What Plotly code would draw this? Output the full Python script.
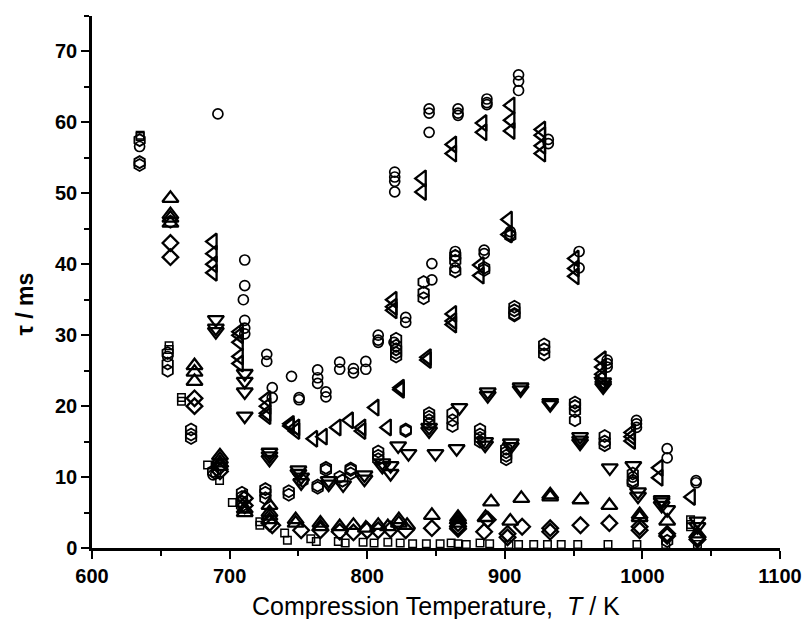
import plotly.graph_objects as go

# ---- data (T in K, tau in ms) ----
circle_T = [691.5, 634.6, 711, 711, 710, 711, 711, 711, 727, 727, 731, 731, 745, 750.5, 750.5,
            764, 764, 764, 770, 770, 780, 780, 790, 790, 799, 799, 808, 808, 808,
            820, 820, 820, 820, 819.5, 828, 828, 845, 845, 845, 847, 847,
            866, 866, 866, 864, 864, 864, 887, 887, 887, 885, 885,
            910, 910, 910, 904, 904, 931.6, 931.6, 954, 954,
            974.4, 974.4, 974.4, 995.7, 995.7, 995.7, 993, 1018, 1018, 1039, 1039,
            688, 690, 655]
circle_tau = [61.2, 56.6, 40.6, 37.0, 35.0, 32.1, 31.0, 30.2, 27.3, 26.3, 22.6, 21.2, 24.2, 21.2, 20.9,
              25.1, 24.0, 23.2, 22.0, 21.3, 26.2, 25.2, 25.3, 24.7, 26.3, 25.2, 30.0, 29.3, 29.0,
              53.0, 52.3, 51.7, 50.2, 29.0, 32.5, 31.8, 61.9, 61.3, 58.6, 40.1, 37.8,
              61.9, 61.3, 61.0, 41.8, 41.2, 39.5, 63.3, 62.8, 62.5, 42.0, 41.5,
              66.7, 65.8, 64.5, 44.6, 44.2, 57.6, 57.0, 41.8, 39.5,
              26.5, 26.0, 25.5, 18.0, 17.5, 17.0, 10.0, 14.0, 12.7, 9.5, 9.2,
              10.3, 10.5, 27.0]

hex_T = [634.6, 634.6, 634.6, 657, 655, 655, 655, 672, 672, 672, 688,
         709, 709, 709, 709, 726, 726, 726, 743, 743, 753, 764, 764, 770, 770, 780, 782,
         788, 788, 788, 808, 808, 808, 821, 821, 821, 821, 821, 828, 828,
         841, 841, 841, 845, 845, 845, 845, 864, 864, 864, 862, 862, 862,
         885, 885, 882, 882, 882, 882, 904, 907, 907, 907, 907, 901, 901, 901, 901,
         928.6, 928.6, 928.6, 951, 951, 951, 951, 972.6, 972.6, 972.6, 993, 993, 993, 1018]
hex_tau = [57.5, 54.4, 54.0, 46.0, 27.5, 26.0, 25.0, 16.7, 16.0, 15.5, 10.8,
           7.8, 7.2, 6.5, 6.0, 8.3, 7.8, 7.0, 8.0, 7.5, 9.5, 8.8, 8.5, 11.3, 11.0, 10.0, 9.5,
           11.2, 11.0, 10.5, 13.6, 13.0, 12.5, 29.5, 28.5, 28.0, 27.5, 27.0, 16.7, 16.5,
           37.5, 36.0, 35.2, 19.0, 18.5, 18.0, 17.5, 41.2, 40.5, 39.0, 19.0, 18.0, 17.2,
           39.5, 39.2, 16.7, 16.0, 15.5, 15.0, 44.0, 34.0, 33.5, 33.0, 32.8, 14.0, 13.5, 13.0, 12.5,
           28.7, 28.0, 27.3, 20.5, 20.0, 19.3, 18.0, 15.8, 15.0, 14.5, 10.5, 9.5, 9.2, 1.0]

square_T = [635, 635, 656, 656, 665, 665, 684, 692.7, 702, 722, 722, 740, 742, 759, 763,
            779, 784, 797, 805, 815, 824, 833, 843, 853, 861, 866, 872, 882, 889,
            903, 910, 921, 931, 941, 953, 975, 996, 1017, 1035, 1035, 1035, 1040]
square_tau = [58.2, 58.0, 28.5, 28.0, 21.2, 20.7, 11.7, 9.5, 6.4, 3.7, 3.2, 2.1, 1.1, 1.3, 0.9,
              0.9, 0.7, 0.8, 0.7, 0.8, 0.7, 0.6, 0.6, 0.6, 0.7, 0.6, 0.5, 0.7, 0.6,
              0.5, 0.5, 0.5, 0.5, 0.5, 0.5, 0.5, 0.5, 0.5, 4.0, 3.3, 3.0, 0.5]

tri_up_T = [657, 657, 657, 657, 674.5, 674.5, 674.5, 693, 693, 693, 693, 711, 711,
            729, 729, 729, 729, 748, 748, 766, 766, 780, 790, 799, 808, 815,
            823, 823, 829, 847, 866, 866, 866, 890, 886, 912, 904, 933, 933,
            955, 976, 998, 998, 1018, 1040]
tri_up_tau = [49.3, 47.0, 46.5, 45.8, 25.7, 24.8, 23.5, 13.0, 12.5, 12.0, 11.5, 5.5, 5.0,
              6.0, 5.0, 4.5, 4.0, 4.0, 3.5, 3.5, 3.0, 3.0, 3.2, 2.8, 3.2, 3.0,
              4.0, 3.5, 3.2, 4.6, 4.3, 4.0, 3.5, 6.5, 4.3, 7.0, 3.8, 7.5, 7.2,
              6.8, 6.0, 4.7, 4.3, 3.8, 2.0]

tri_down_T = [690, 690, 690, 711, 711, 711, 711, 729, 729, 729, 750, 750, 752, 752,
              772, 772, 782.5, 798, 798, 811, 811, 817, 817, 822.5, 830, 845, 845, 849.6,
              867, 865, 887.6, 887.6, 885.7, 885.7, 911.5, 911.5, 904.4, 904.4, 933, 933,
              954.7, 954.7, 954.7, 971.5, 971.5, 971.5, 976.3, 993.4, 996.8, 996.8,
              1014, 1014, 1014, 1018, 1040, 1040]
tri_down_tau = [32.2, 31.0, 30.5, 24.6, 23.5, 22.0, 18.6, 13.5, 13.0, 12.5, 11.0, 10.5, 10.0, 9.2,
                9.5, 9.0, 8.9, 10.3, 9.7, 12.0, 11.5, 11.6, 10.5, 14.4, 13.3, 17.0, 16.5, 13.3,
                19.8, 14.0, 22.0, 21.5, 15.0, 14.5, 22.7, 22.3, 14.8, 14.3, 20.5, 20.2,
                15.7, 15.2, 14.8, 23.4, 23.0, 22.7, 11.3, 11.6, 7.9, 7.3,
                6.8, 6.5, 6.0, 5.4, 3.8, 3.0]

tri_left_T = [688, 688, 688, 688, 707, 707, 707, 707, 707, 727, 727, 727, 727,
              744, 744, 748, 748, 761, 768, 778, 787, 796, 796, 805.6, 814.6,
              818.7, 818.7, 818.7, 824, 824, 840, 840, 843.6, 843.6, 862, 862, 862, 862, 862,
              884, 884, 882, 882, 904.4, 904.4, 904.4, 902.5, 902.5,
              926.7, 926.7, 926.7, 926.7, 951, 951, 951, 970.7, 970.7, 970.7, 970.7,
              992, 992, 992, 1012, 1012, 1035.5]
tri_left_tau = [43.2, 41.5, 40.0, 38.8, 30.5, 30.0, 29.0, 27.0, 26.0, 21.0, 20.0, 19.0, 18.6,
                17.5, 17.2, 17.0, 16.5, 15.4, 15.7, 17.0, 18.0, 17.0, 16.5, 19.8, 17.0,
                35.0, 34.0, 33.5, 22.6, 22.3, 52.1, 50.2, 26.9, 26.5, 56.9, 55.6, 33.0, 32.0, 31.5,
                59.9, 58.6, 39.9, 38.4, 62.4, 60.3, 58.8, 46.3, 44.2,
                59.0, 58.2, 56.7, 55.6, 40.8, 39.4, 38.3, 26.6, 25.5, 24.5, 24.0,
                16.3, 15.7, 15.1, 11.3, 9.9, 7.2]

diamond_T = [657, 657, 674.5, 674.5, 693, 693, 711, 711, 729, 731, 752,
             766, 780, 790, 800, 808, 817, 828, 847, 866, 866, 866,
             887.6, 885, 912.6, 902, 902, 933, 933, 955, 976, 998, 998,
             1018, 1018, 1040, 1040]
diamond_tau = [43.0, 41.0, 21.1, 20.0, 11.5, 10.8, 7.0, 6.0, 3.5, 3.2, 2.5,
               2.5, 2.3, 2.2, 2.5, 2.5, 2.6, 2.5, 2.8, 3.5, 3.0, 2.7,
               4.0, 2.3, 3.0, 2.0, 1.5, 2.8, 2.3, 3.2, 3.5, 3.0, 2.5,
               2.0, 1.7, 1.5, 1.2]

x_ticks = [600, 700, 800, 900, 1000, 1100]
y_ticks = [0, 10, 20, 30, 40, 50, 60, 70]

series = [
    (circle_T, circle_tau, "circle-open", 10, 1.7),
    (hex_T, hex_tau, "hexagon-open", 12, 1.8),
    (square_T, square_tau, "square-open", 7.5, 1.5),
    (tri_up_T, tri_up_tau, "triangle-up-open", 14, 2.3),
    (tri_down_T, tri_down_tau, "triangle-down-open", 14, 2.3),
    (tri_left_T, tri_left_tau, "triangle-left-open", 14, 2.3),
    (diamond_T, diamond_tau, "diamond-open", 12, 2.3),
]

fig = go.Figure()
for xs, ys, sym, sz, lw in series:
    fig.add_trace(go.Scatter(
        x=xs, y=ys, mode="markers", showlegend=False,
        marker=dict(symbol=sym, size=sz, color="black", line=dict(color="black", width=lw)),
    ))

tickfont = dict(family="Liberation Sans, Arial, sans-serif", size=20, color="black", weight="bold")

fig.update_layout(
    width=802, height=611,
    margin=dict(l=84, r=24, t=8, b=71),
    paper_bgcolor="white", plot_bgcolor="white",
    xaxis=dict(
        range=[600, 1100], tickvals=x_ticks, ticktext=[str(v) for v in x_ticks],
        showgrid=False, zeroline=False, showline=True, linecolor="black", linewidth=2.5,
        ticks="outside", ticklen=8, tickwidth=2, tickcolor="black", tickfont=tickfont,
        ticklabeloverflow="allow",
        minor=dict(dtick=50, tick0=600, ticks="outside", ticklen=5, tickwidth=2, tickcolor="black", showgrid=False),
    ),
    yaxis=dict(
        range=[0, 75], tickvals=y_ticks, ticktext=[str(v) for v in y_ticks],
        showgrid=False, zeroline=False, showline=True, linecolor="black", linewidth=2.5,
        ticks="outside", ticklen=8, tickwidth=2, tickcolor="black", tickfont=tickfont,
        minor=dict(dtick=5, tick0=0, ticks="outside", ticklen=5, tickwidth=2, tickcolor="black", showgrid=False),
    ),
    annotations=[
        dict(text="Compression Temperature,  <i>T</i> / K", xref="paper", yref="paper",
             x=0.5, y=-0.109, xanchor="center", yanchor="middle", showarrow=False,
             font=dict(family="Liberation Sans, Arial, sans-serif", size=25, color="black")),
        dict(text="τ / ms", xref="paper", yref="paper", x=-0.098, y=0.459,
             xanchor="center", yanchor="middle", textangle=-90, showarrow=False,
             font=dict(family="Liberation Sans, Arial, sans-serif", size=23, color="black", weight="bold")),
    ],
)

fig.write_html("out.html")
